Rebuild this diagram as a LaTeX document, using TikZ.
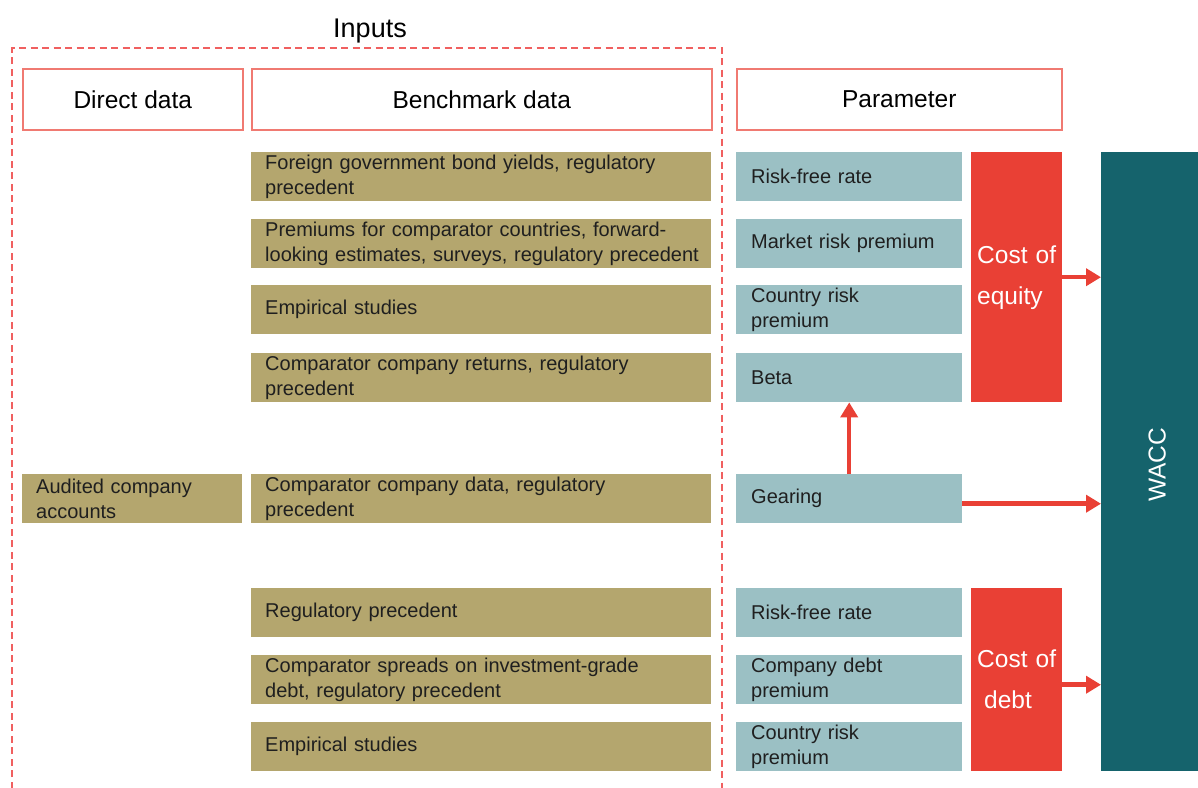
\documentclass[tikz,border=0pt]{standalone}
\usepackage{fontspec}
\setmainfont{Liberation Sans}
\usepackage{xcolor}
\usepackage{tikz}
\usetikzlibrary{positioning,arrows.meta}
\hyphenpenalty=10000

\definecolor{khaki}{RGB}{180,166,110}
\definecolor{paleteal}{RGB}{155,192,196}
\definecolor{costred}{RGB}{233,64,53}
\definecolor{darkteal}{RGB}{21,99,108}
\definecolor{headred}{RGB}{240,122,114}
\definecolor{dashred}{RGB}{240,96,96}

\tikzset{
  header/.style={draw=headred, line width=1.5pt, anchor=north west, inner sep=0pt,
    minimum height=61pt, minimum width=#1, font=\fontsize{24.5}{28}\selectfont},
  databox/.style={fill=#1, anchor=north west, minimum height=49pt, inner ysep=0pt,
    align=left, text=black!88, font=\fontsize{20}{25}\selectfont},
  costbox/.style={fill=costred, anchor=north west, minimum height=#1, inner xsep=6pt,
    text width=79pt, align=left, text=white, font=\fontsize{24.5}{41}\selectfont},
  redarrow/.style={draw=costred, line width=4.5pt, -{Triangle[length=15pt,width=17pt]}}
}

\begin{document}
\begin{tikzpicture}[x=1pt, y=-1pt]
    \clip (0,0) rectangle (1198,787);
    \fill[white] (0,0) rectangle (1198,787);

    % Inputs frame (runs off the bottom)
    \draw[dashred, line width=2.5pt, dash pattern=on 7pt off 4.5pt]
        (12,800) -- (12,48) -- (722,48) -- (722,800);
    \node[font=\fontsize{27}{30}\selectfont] (inputs) at (370,31) {Inputs};

    % column headers
    \node[header=220pt] (direct) at (22,68) {Direct data};
    \node[header=460pt] (bench) at (251,68) {Benchmark data};
    \node[header=325pt] (param) at (736,68) {Parameter};

    % benchmark data
    \node[databox=khaki, text width=432pt, inner xsep=14pt] (b1) at (251,152) {Foreign government bond yields, regulatory\\precedent};
    \node[databox=khaki, text width=432pt, inner xsep=14pt] (b2) at (251,219) {\mbox{Premiums for comparator countries, forward-}\\\mbox{looking estimates, surveys, regulatory precedent}};
    \node[databox=khaki, text width=432pt, inner xsep=14pt] (b3) at (251,285) {Empirical studies};
    \node[databox=khaki, text width=432pt, inner xsep=14pt] (b4) at (251,353) {Comparator company returns, regulatory\\precedent};
    \node[databox=khaki, text width=432pt, inner xsep=14pt] (b5) at (251,474) {Comparator company data, regulatory\\precedent};
    \node[databox=khaki, text width=432pt, inner xsep=14pt] (b6) at (251,588) {Regulatory precedent};
    \node[databox=khaki, text width=432pt, inner xsep=14pt] (b7) at (251,655) {Comparator spreads on investment-grade\\debt, regulatory precedent};
    \node[databox=khaki, text width=432pt, inner xsep=14pt] (b8) at (251,722) {Empirical studies};

    % direct data
    \node[databox=khaki, text width=192pt, inner xsep=14pt] (audit) at (22,474) {Audited company\\accounts};

    % parameters
    \node[databox=paleteal, text width=196pt, inner xsep=15pt] (rf) at (736,152) {Risk-free rate};
    \node[databox=paleteal, text width=196pt, inner xsep=15pt] (mrp) at (736,219) {Market risk premium};
    \node[databox=paleteal, text width=196pt, inner xsep=15pt] (crp) at (736,285) {Country risk\\premium};
    \node[databox=paleteal, text width=196pt, inner xsep=15pt] (beta) at (736,353) {Beta};
    \node[databox=paleteal, text width=196pt, inner xsep=15pt] (gear) at (736,474) {Gearing};
    \node[databox=paleteal, text width=196pt, inner xsep=15pt] (rfd) at (736,588) {Risk-free rate};
    \node[databox=paleteal, text width=196pt, inner xsep=15pt] (cdp) at (736,655) {Company debt\\premium};
    \node[databox=paleteal, text width=196pt, inner xsep=15pt] (crpd) at (736,722) {Country risk\\premium};

    % cost of equity / cost of debt
    \node[costbox=250pt] (coe) at (971,152) {\mbox{Cost of}\\equity};
    \node[costbox=183pt] (cod) at (971,588) {\mbox{Cost of}\\\hspace*{7pt}debt};

    % WACC
    \node[fill=darkteal, anchor=north west, minimum width=112pt, minimum height=619pt] (wacc) at (1101,152) {};
    \node[rotate=90, text=white, font=\fontsize{24.5}{28}\selectfont] (wacctext) at ([yshift=-3pt]wacc.center) {WACC};

    % links
    \draw[redarrow] (gear.north) -- (beta.south);
    \draw[redarrow] ([yshift=-5pt]gear.east) -- ([yshift=-5pt]gear.east -| wacc.west);
    \draw[redarrow] (coe.east) -- (coe.east -| wacc.west);
    \draw[redarrow] ([yshift=-5pt]cod.east) -- ([yshift=-5pt]cod.east -| wacc.west);
\end{tikzpicture}
\end{document}
